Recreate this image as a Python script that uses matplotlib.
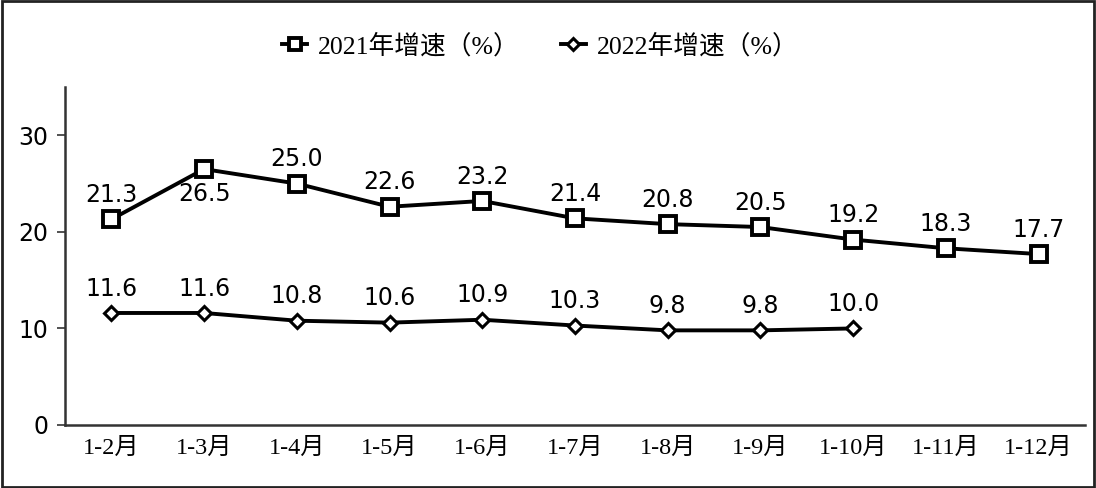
import matplotlib
matplotlib.use("Agg")
import matplotlib.pyplot as plt
from matplotlib.patches import Rectangle

categories = ["1-2月", "1-3月", "1-4月", "1-5月", "1-6月", "1-7月", "1-8月", "1-9月", "1-10月", "1-11月", "1-12月"]
growth_2021 = [21.3, 26.5, 25.0, 22.6, 23.2, 21.4, 20.8, 20.5, 19.2, 18.3, 17.7]
growth_2022 = [11.6, 11.6, 10.8, 10.6, 10.9, 10.3, 9.8, 9.8, 10.0]
label_2021 = "2021年增速（%）"
label_2022 = "2022年增速（%）"
yticks = [0, 10, 20, 30]

serif = ["Liberation Serif", "Noto Sans CJK SC"]
sans = ["DejaVu Sans"]

fig = plt.figure(figsize=(10.96, 4.88), dpi=100)
ax = fig.add_axes([65/1096, (488-425)/488, (1085-65)/1096, (425-87)/488])

x = list(range(len(categories)))
x22 = x[:len(growth_2022)]
l1, = ax.plot(x, growth_2021, color="black", lw=2.8, marker="s", ms=11,
              mfc="white", mec="black", mew=2.8, label=label_2021, zorder=3)
l2, = ax.plot(x22, growth_2022, color="black", lw=2.8, marker="D", ms=7.5,
              mfc="white", mec="black", mew=2.2, label=label_2022, zorder=3)

for i, v in enumerate(growth_2021):
    off = -18 if i == 1 else 17.5
    ax.annotate(f"{v:.1f}", (i, v), xytext=(0, off), textcoords="offset points",
                ha="center", va="center", fontsize=17, family=sans)
for i, v in enumerate(growth_2022):
    ax.annotate(f"{v:.1f}", (i, v), xytext=(0, 17.5), textcoords="offset points",
                ha="center", va="center", fontsize=17, family=sans)

ax.set_xlim(-0.5, len(categories) - 0.5)
ax.set_ylim(0, 35)
ax.set_yticks(yticks)
ax.set_yticklabels([str(t) for t in yticks], fontsize=17, family=sans)
ax.set_xticks(x)
ax.set_xticklabels(categories, fontsize=17.5, family=serif)
ax.tick_params(axis="x", length=0, pad=9)
ax.tick_params(axis="y", length=6, width=1.2, direction="out", pad=6, color="#333333")
for s in ["top", "right"]:
    ax.spines[s].set_visible(False)
for s in ["left", "bottom"]:
    ax.spines[s].set_linewidth(1.8)
    ax.spines[s].set_color("#333333")

leg = fig.legend(handles=[l1, l2], loc="center", bbox_to_anchor=(540/1096, 1 - 46/488),
                 ncol=2, frameon=False, prop={"family": serif, "size": 18.5},
                 handlelength=1.0, handletextpad=0.4, columnspacing=1.6, markerscale=0.8)

fig.patches.append(Rectangle((0.002, 0.003), 0.996, 0.994, transform=fig.transFigure,
                             fill=False, ec="#222222", lw=2))

fig.savefig("out.png", dpi=100, facecolor="white")
